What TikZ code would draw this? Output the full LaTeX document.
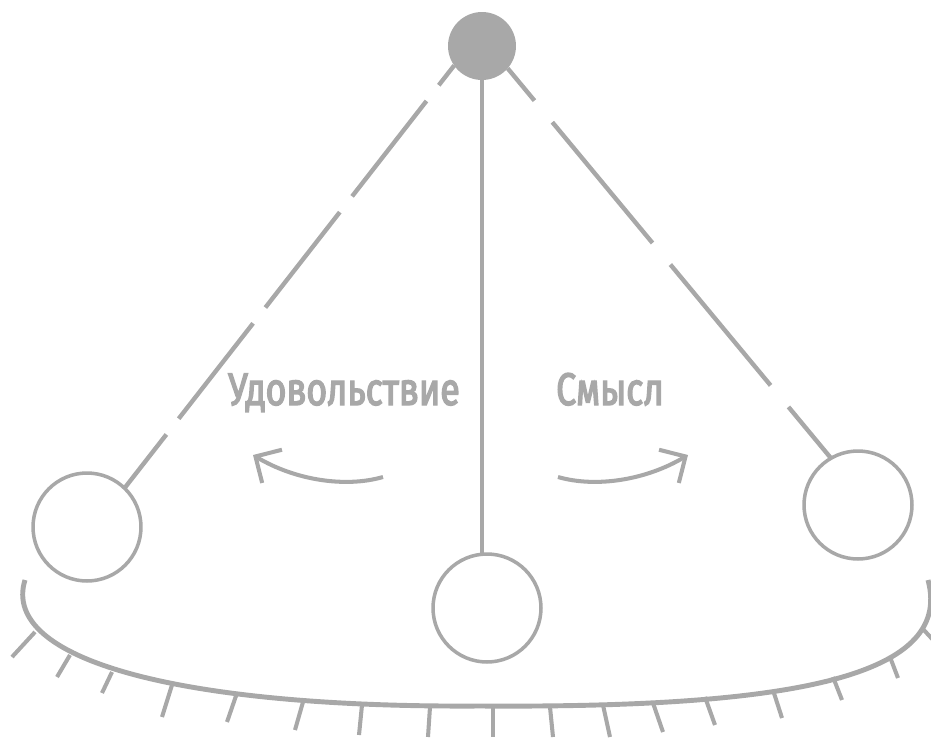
\documentclass[tikz,border=0pt]{standalone}
\usepackage{fontspec}
\setmainfont{Fira Sans}[FakeStretch=0.78, FakeBold=3]
\usepackage{tikz}
\usetikzlibrary{arrows.meta}
\definecolor{pendgrey}{RGB}{168,168,168}

\tikzset{
  bob/.style={circle, draw=pendgrey, line width=2pt, fill=white,
    minimum size=2.16cm, inner sep=0pt, outer sep=0pt},
  pivot/.style={circle, fill=pendgrey, minimum size=1.36cm,
    inner sep=0pt, outer sep=0pt},
  string/.style={draw=pendgrey, line width=2.5pt},
  swing/.style={draw=pendgrey, line width=2.3pt,
    -{Straight Barb[length=11pt,width=22pt]}},
  hatch/.style={draw=pendgrey, line width=2.3pt},
  lbl/.style={text=pendgrey, font=\fontsize{26}{30}\selectfont,
    anchor=base, inner sep=0pt},
}

\begin{document}
\begin{tikzpicture}[x=0.02cm, y=-0.02cm]
  % 1 unit = 1 px of the 931x738 frame, y runs down
  \useasboundingbox (0,0) rectangle (931,738);

  % ground: flat bowl with hatching below it
  \draw[pendgrey, line width=2.8pt] (25,580)
    .. controls (0,660) and (180,708) .. (480,706)
    .. controls (780,708) and (955,680) .. (928,580);
  % hatch ticks: x,y on the bowl / x,y of the free end
  \foreach \xa/\ya/\xb/\yb in {35/632/12/657, 70/655/57/677, 112/672/102/693,
      172/685/162/717, 237/693/227/722, 303/702/295/730, 362/705/359/735,
      430/707/428/737, 493/707/493/737, 550/707/553/737, 603/705/610/737,
      653/703/663/732, 705/697/715/725, 773/690/782/718, 833/677/842/700,
      890/657/898/678, 922/628/935/642}
    \draw[hatch] (\xa,\ya) -- (\xb,\yb);

  % pivot and the three bobs
  \node[pivot] (pivot) at (482,46) {};
  \node[bob] (bobL) at (87,527) {};
  \node[bob] (bobM) at (487,608) {};
  \node[bob] (bobR) at (858,505) {};

  % strings
  \draw[string, dash pattern=on 2.42cm off 0.4cm, dash phase=1.92cm]
    (pivot.215) -- (bobL.46);
  \draw[string] (pivot.south) -- (pivot.south |- bobM.north);
  \draw[string, dash pattern=on 3.14cm off 0.56cm, dash phase=2.3cm]
    (pivot.319) -- (bobR.120);

  % labels
  \node[lbl] (pleasure) at (344,405) {Удовольствие};
  \node[lbl] (meaning) at (610,405) {Смысл};

  % swing arrows
  \draw[swing] (383,477) .. controls (345,488) and (295,480) .. (253,455);
  \draw[swing] (558,477) .. controls (596,488) and (646,480) .. (688,455);
\end{tikzpicture}
\end{document}
